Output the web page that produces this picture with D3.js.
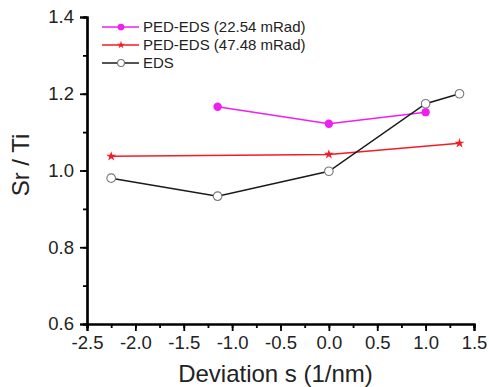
<!DOCTYPE html>
<html>
<head>
<meta charset="utf-8">
<script src="https://cdn.jsdelivr.net/npm/d3@7/dist/d3.min.js"></script>
<style>
  html, body { margin: 0; padding: 0; background: #fff; }
  svg { display: block; }
</style>
</head>
<body>
<svg id="chart" width="489" height="387"></svg>
<script>
// ─── Data ────────────────────────────────────────────────
const ped22X = [-1.15, 0.0, 1.0];
const ped22Y = [1.166, 1.122, 1.152];

const ped47X = [-2.25, 0.0, 1.35];
const ped47Y = [1.037, 1.042, 1.071];

const edsX = [-2.25, -1.15, 0.0, 1.0, 1.35];
const edsY = [0.980, 0.933, 0.998, 1.174, 1.200];

const xTicks = [-2.5, -2.0, -1.5, -1.0, -0.5, 0.0, 0.5, 1.0, 1.5];
const yTicks = [0.6, 0.8, 1.0, 1.2, 1.4];

const seriesNames = ["PED-EDS (22.54 mRad)", "PED-EDS (47.48 mRad)", "EDS"];

// ─── Layout ──────────────────────────────────────────────
const width = 489, height = 387;
const margin = { top: 17, right: 15, bottom: 63, left: 87 };
const plotW = width - margin.left - margin.right;
const plotH = height - margin.top - margin.bottom;
const font = "Liberation Sans, Arial, sans-serif";

const svg = d3.select("#chart");
const g = svg.append("g").attr("transform", `translate(${margin.left},${margin.top})`);

const x = d3.scaleLinear().domain([-2.5, 1.5]).range([0, plotW]);
const y = d3.scaleLinear().domain([0.6, 1.4]).range([plotH, 0]);

// ─── Series ──────────────────────────────────────────────
const series = [
  { name: seriesNames[0], xs: ped22X, ys: ped22Y, color: "#f01ef0", marker: "dot" },
  { name: seriesNames[1], xs: ped47X, ys: ped47Y, color: "#f41c24", marker: "star" },
  { name: seriesNames[2], xs: edsX, ys: edsY, color: "#1a1a1a", marker: "open" }
];

const line = d3.line().x(d => x(d[0])).y(d => y(d[1]));

function drawMarker(sel, s, k) {
  if (s.marker === "dot") {
    sel.append("circle").attr("r", 4.2 * k).attr("fill", s.color);
  } else if (s.marker === "star") {
    sel.append("path")
      .attr("d", d3.symbol().type(d3.symbolStar).size(30 * k * k)())
      .attr("fill", s.color);
  } else {
    sel.append("circle").attr("r", 4.3 * k)
      .attr("fill", "#fff").attr("stroke", "#777").attr("stroke-width", 1.1);
  }
}

series.forEach(s => {
  const pts = s.xs.map((v, i) => [v, s.ys[i]]);
  g.append("path")
    .datum(pts)
    .attr("fill", "none")
    .attr("stroke", s.color)
    .attr("stroke-width", 1.5)
    .attr("d", line);
});

series.forEach(s => {
  const pts = s.xs.map((v, i) => [v, s.ys[i]]);
  pts.forEach(p => {
    const m = g.append("g").attr("transform", `translate(${x(p[0])},${y(p[1])})`);
    drawMarker(m, s, 1);
  });
});

// ─── Axes ────────────────────────────────────────────────
const xMinor = d3.range(-2.5, 1.5001, 0.25);
const yMinor = d3.range(0.6, 1.4001, 0.1);

const xAxis = g.append("g").attr("transform", `translate(0,${plotH})`);
xAxis.call(d3.axisBottom(x).tickValues(xMinor).tickSize(4).tickFormat(""));
xAxis.append("g").call(d3.axisBottom(x).tickValues(xTicks).tickSize(7).tickPadding(5).tickFormat(d3.format(".1f")));

const yAxis = g.append("g");
yAxis.call(d3.axisLeft(y).tickValues(yMinor).tickSize(4).tickFormat(""));
yAxis.append("g").call(d3.axisLeft(y).tickValues(yTicks).tickSize(7).tickPadding(6).tickFormat(d3.format(".1f")));

svg.selectAll(".domain").attr("stroke", "#000").attr("stroke-width", 2.2);
svg.selectAll(".tick line").attr("stroke", "#000").attr("stroke-width", 1.8);
svg.selectAll(".tick text")
  .attr("font-family", font)
  .attr("font-size", 18.5)
  .attr("fill", "#222")
  .text(function() { return d3.select(this).text().replace("\u2212", "-"); });

// ─── Axis titles ─────────────────────────────────────────
svg.append("text")
  .attr("x", margin.left + plotW / 2 - 5)
  .attr("y", 382)
  .attr("text-anchor", "middle")
  .attr("font-family", font)
  .attr("font-size", 24)
  .attr("fill", "#222")
  .text("Deviation s (1/nm)");

svg.append("text")
  .attr("transform", `translate(29,165) rotate(-90)`)
  .attr("text-anchor", "middle")
  .attr("font-family", font)
  .attr("font-size", 24)
  .attr("fill", "#222")
  .text("Sr / Ti");

// ─── Legend ──────────────────────────────────────────────
const legend = svg.append("g").attr("transform", "translate(102,27)");
series.forEach((s, i) => {
  const item = legend.append("g").attr("transform", `translate(0,${i * 18})`);
  item.append("line")
    .attr("x1", 0).attr("x2", 37)
    .attr("stroke", s.color).attr("stroke-width", 1.5);
  const m = item.append("g").attr("transform", "translate(19,0)");
  drawMarker(m, s, 0.8);
  item.append("text")
    .attr("x", 41)
    .attr("dy", "0.36em")
    .attr("font-family", font)
    .attr("font-size", 15)
    .attr("fill", "#222")
    .text(s.name);
});
</script>
</body>
</html>
